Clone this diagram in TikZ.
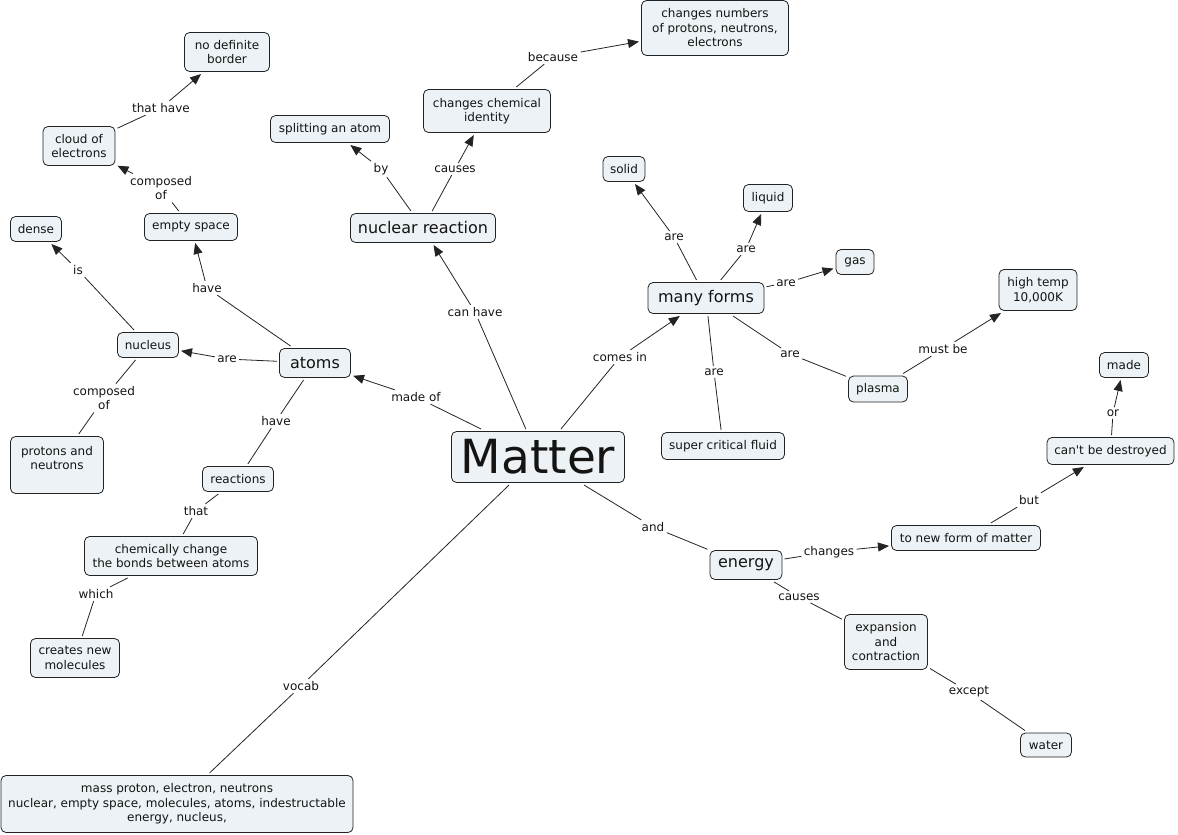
\documentclass[tikz,border=0pt]{standalone}
\usepackage{fontspec}
\newfontfamily\dv{DejaVu Sans}
\usetikzlibrary{arrows.meta}
\definecolor{cfill}{RGB}{236,242,245}
\definecolor{cline}{RGB}{35,35,35}
\definecolor{ctext}{RGB}{20,20,20}
\begin{document}
\begin{tikzpicture}[x=1pt,y=-1pt,
 concept/.style={draw=cline, fill=cfill, rounded corners=5pt, line width=0.8pt, text=ctext, align=center, inner sep=0pt, outer sep=2.5pt, font=\dv\fontsize{12}{14.5}\selectfont},
 big/.style={font=\dv\fontsize{16}{19}\selectfont},
 huge/.style={font=\dv\fontsize{47}{50}\selectfont},
 lbl/.style={text=ctext, align=center, inner sep=2.5pt, outer sep=0pt, font=\dv\fontsize{12}{14.5}\selectfont},
 link/.style={draw=cline, line width=0.8pt},
 arr/.style={link, -{Triangle[length=11pt,width=9pt]}},
]
\useasboundingbox (0,0) rectangle (1178,835);
% concepts
\node[concept, minimum width=85pt, minimum height=39pt] (nodef) at (227,52) {no definite\\border};
\node[concept, minimum width=72pt, minimum height=39pt] (cloud) at (79,146) {cloud of\\electrons};
\node[concept, minimum width=119pt, minimum height=27pt] (split) at (330,129) {splitting an atom};
\node[concept, minimum width=127pt, minimum height=43pt] (chid) at (487,111) {changes chemical\\identity};
\node[concept, minimum width=147pt, minimum height=55pt] (chnum) at (715,28) {changes numbers\\of protons, neutrons,\\electrons};
\node[concept, minimum width=51pt, minimum height=25pt] (dense) at (36,229) {dense};
\node[concept, minimum width=93pt, minimum height=27pt] (empty) at (191,227) {empty space};
\node[concept, big, minimum width=145pt, minimum height=29pt] (nucr) at (423,228) {nuclear reaction};
\node[concept, minimum width=42pt, minimum height=25pt] (solid) at (624,169) {solid};
\node[concept, minimum width=49pt, minimum height=27pt] (liquid) at (768,198) {liquid};
\node[concept, minimum width=38pt, minimum height=25pt] (gas) at (855,262) {gas};
\node[concept, big, minimum width=116pt, minimum height=31pt] (forms) at (706,298) {many forms};
\node[concept, minimum width=78pt, minimum height=41pt] (hight) at (1038,290) {high temp\\10,000K};
\node[concept, minimum width=61pt, minimum height=25pt] (nucleus) at (148,345) {nucleus};
\node[concept, big, minimum width=71pt, minimum height=29pt] (atoms) at (315,363) {atoms};
\node[concept, minimum width=59pt, minimum height=26pt] (plasma) at (878,389) {plasma};
\node[concept, minimum width=49pt, minimum height=25pt] (made) at (1124,365) {made};
\node[concept, minimum width=127pt, minimum height=27pt] (cant) at (1110.5,451) {can't be destroyed};
\node[concept, minimum width=149pt, minimum height=25pt] (newform) at (966,538) {to new form of matter};
\node[concept, minimum width=83pt, minimum height=55pt] (expan) at (886,642) {expansion\\and\\contraction};
\node[concept, minimum width=51pt, minimum height=24pt] (water) at (1046,745) {water};
\node[concept, big, minimum width=72pt, minimum height=29pt] (energy) at (746,565) {energy};
\node[concept, huge, minimum width=173pt, minimum height=51pt] (matter) at (538,457) {Matter};
\node[concept, minimum width=123pt, minimum height=27pt] (scf) at (723,446) {super critical fluid};
\node[concept, minimum width=93pt, minimum height=57pt] (protons) at (57,465) {protons and\\neutrons\\ };
\node[concept, minimum width=71pt, minimum height=25pt] (reactions) at (238,479) {reactions};
\node[concept, minimum width=173pt, minimum height=39pt] (chem) at (171,556) {chemically change\\the bonds between atoms};
\node[concept, minimum width=89pt, minimum height=39pt] (creates) at (75,658) {creates new\\molecules};
\node[concept, minimum width=352pt, minimum height=57pt] (vocabbox) at (177,804) {mass proton, electron, neutrons\\nuclear, empty space, molecules, atoms, indestructable\\energy, nucleus,};
% link labels
\node[lbl] (l1) at (161,108) {that have};
\node[lbl] (l2) at (161,188) {composed\\of};
\node[lbl] (l3) at (381,169) {by};
\node[lbl] (l4) at (455,169) {causes};
\node[lbl] (l5) at (553,57) {because};
\node[lbl] (l6) at (78,270) {is};
\node[lbl] (l7) at (207,288) {have};
\node[lbl] (l8) at (674,237) {are};
\node[lbl] (l9) at (746,249) {are};
\node[lbl] (l10) at (786,283) {are};
\node[lbl] (l11) at (790,354) {are};
\node[lbl] (l12) at (714,372) {are};
\node[lbl] (l13) at (943,349) {must be};
\node[lbl] (l14) at (620,357) {comes in};
\node[lbl] (l15) at (475,312) {can have};
\node[lbl] (l16) at (416,397) {made of};
\node[lbl] (l17) at (227,359) {are};
\node[lbl] (l18) at (276,421) {have};
\node[lbl] (l19) at (104,398) {composed\\of};
\node[lbl] (l20) at (196,511) {that};
\node[lbl] (l21) at (96,594) {which};
\node[lbl] (l22) at (301,686) {vocab};
\node[lbl] (l23) at (653,527) {and};
\node[lbl] (l24) at (829,552) {changes};
\node[lbl] (l25) at (799,597) {causes};
\node[lbl] (l26) at (969,692) {except};
\node[lbl] (l27) at (1029,500) {but};
\node[lbl] (l28) at (1113,413) {or};
% links
\draw[link] (cloud) -- (l1); \draw[arr] (l1) -- (nodef);
\draw[link] (empty) -- (l2); \draw[arr] (l2) -- (cloud);
\draw[link] (nucr) -- (l3); \draw[arr] (l3) -- (split);
\draw[link] (nucr) -- (l4); \draw[arr] (l4) -- (chid);
\draw[link] (chid) -- (l5); \draw[arr] (l5) -- (chnum);
\draw[link] (nucleus) -- (l6); \draw[arr] (l6) -- (dense);
\draw[link] (atoms) -- (l7); \draw[arr] (l7) -- (empty);
\draw[link] (forms) -- (l8); \draw[arr] (l8) -- (solid);
\draw[link] (forms) -- (l9); \draw[arr] (l9) -- (liquid);
\draw[link] (forms) -- (l10); \draw[arr] (l10) -- (gas);
\draw[link] (forms) -- (l11); \draw[link] (l11) -- (plasma);
\draw[link] (forms) -- (l12); \draw[link] (l12) -- (scf);
\draw[link] (plasma) -- (l13); \draw[arr] (l13) -- (hight);
\draw[link] (matter) -- (l14); \draw[arr] (l14) -- (forms);
\draw[link] (matter) -- (l15); \draw[arr] (l15) -- (nucr);
\draw[link] (matter) -- (l16); \draw[arr] (l16) -- (atoms);
\draw[link] (atoms) -- (l17); \draw[arr] (l17) -- (nucleus);
\draw[link] (atoms) -- (l18); \draw[link] (l18) -- (reactions);
\draw[link] (nucleus) -- (l19); \draw[link] (l19) -- (protons);
\draw[link] (reactions) -- (l20); \draw[link] (l20) -- (chem);
\draw[link] (chem) -- (l21); \draw[link] (l21) -- (creates);
\draw[link] (matter) -- (l22); \draw[link] (l22) -- (vocabbox);
\draw[link] (matter) -- (l23); \draw[link] (l23) -- (energy);
\draw[link] (energy) -- (l24); \draw[arr] (l24) -- (newform);
\draw[link] (energy) -- (l25); \draw[link] (l25) -- (expan);
\draw[link] (expan) -- (l26); \draw[link] (l26) -- (water);
\draw[link] (newform) -- (l27); \draw[arr] (l27) -- (cant);
\draw[link] (cant) -- (l28); \draw[arr] (l28) -- (made);
\end{tikzpicture}
\end{document}
